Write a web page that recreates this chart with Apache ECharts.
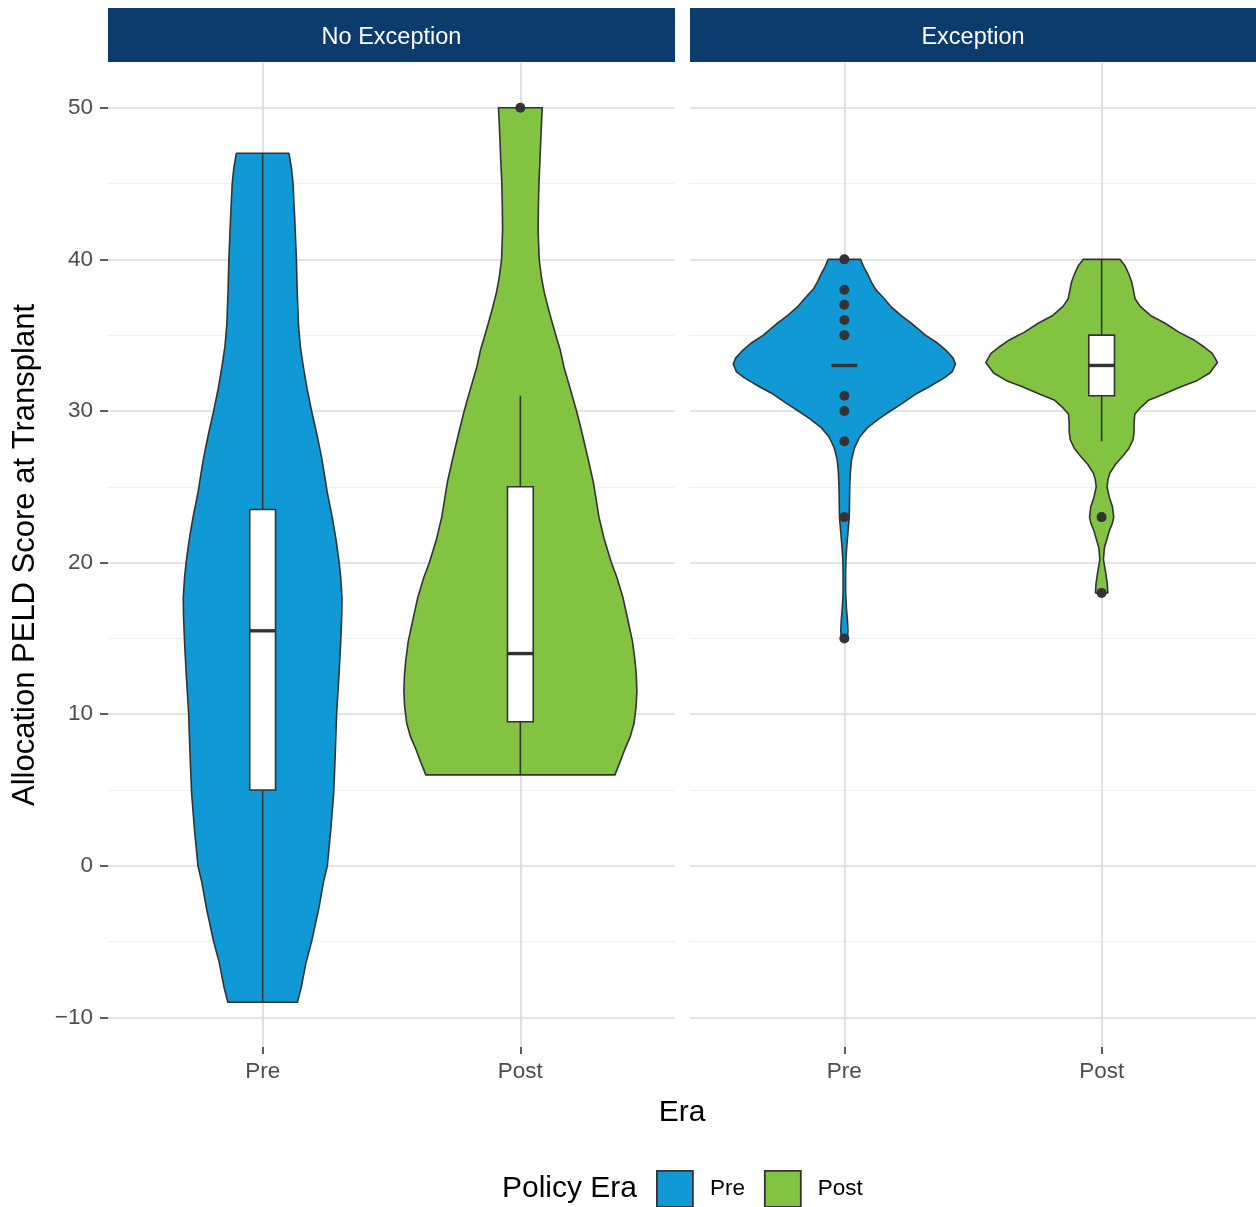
<!DOCTYPE html>
<html><head><meta charset="utf-8">
<script src="https://cdn.jsdelivr.net/npm/echarts@6/dist/echarts.min.js"></script>
<style>html,body{margin:0;padding:0;background:#fff}#c{width:1256px;height:1207px}</style>
</head><body><div id="c"></div>
<script>
// ---- data ----
const panels = ['No Exception', 'Exception'];
const eras = ['Pre', 'Post'];
const yTicks = [-10, 0, 10, 20, 30, 40, 50];
const yMinor = [-5, 5, 15, 25, 35, 45];

// violin outlines: [score, half-width in category units]
const violinNoExcPre = [[-9,0.135],[-8,0.15],[-6.4,0.168],[-5,0.19],[-2.8,0.218],[-1,0.237],[0,0.251],[2.5,0.265],[4.9,0.276],[7.5,0.282],[10,0.287],[12.5,0.296],[14.8,0.303],[16.5,0.307],[17.7,0.308],[19,0.303],[20,0.297],[21.5,0.285],[23,0.27],[24.7,0.25],[26,0.238],[27,0.228],[28.5,0.21],[30,0.19],[31.5,0.172],[32.9,0.158],[34.3,0.146],[35.7,0.139],[38,0.134],[40,0.131],[42.5,0.125],[45,0.118],[46,0.112],[47,0.102]];
const violinNoExcPost = [[6,0.367],[7,0.39],[7.8,0.408],[8.5,0.426],[9.4,0.441],[10.5,0.449],[11.5,0.452],[12.5,0.45],[13.5,0.445],[14.8,0.435],[16,0.42],[17.7,0.398],[19,0.375],[20,0.353],[21.5,0.326],[23,0.305],[24.7,0.289],[25.4,0.282],[26.9,0.262],[28.5,0.24],[30,0.218],[31.5,0.193],[32.9,0.169],[34,0.155],[34.8,0.141],[35.8,0.124],[36.8,0.108],[37.8,0.093],[38.8,0.082],[40,0.073],[41.9,0.069],[43.5,0.07],[45,0.072],[46.5,0.076],[47.8,0.079],[49,0.082],[50,0.085]];
const violinExcPre = [[15,0.012],[15.5,0.014],[16.2,0.012],[17,0.008],[18,0.005],[19.3,0.005],[20.2,0.006],[21,0.009],[22,0.014],[23,0.019],[24,0.02],[25,0.021],[25.9,0.023],[26.8,0.028],[27.6,0.04],[28.3,0.06],[28.9,0.09],[29.5,0.135],[30,0.179],[30.5,0.225],[31.1,0.276],[31.6,0.33],[32.2,0.39],[32.6,0.42],[33.1,0.432],[33.5,0.422],[34,0.395],[34.5,0.36],[35,0.315],[35.8,0.26],[36.3,0.22],[36.9,0.18],[37.5,0.15],[38,0.122],[38.5,0.105],[39.05,0.09],[39.5,0.075],[40,0.063]];
const violinExcPost = [[18,0.024],[18.6,0.022],[19.3,0.016],[20.2,0.007],[21,0.011],[21.5,0.02],[22.1,0.03],[22.6,0.042],[23,0.047],[23.7,0.042],[24.3,0.03],[25,0.021],[25.5,0.025],[25.9,0.032],[26.5,0.055],[27,0.081],[27.5,0.105],[28.1,0.122],[28.6,0.126],[29.2,0.126],[29.8,0.129],[30.2,0.15],[30.7,0.182],[31.1,0.24],[31.6,0.308],[32,0.37],[32.5,0.42],[33.2,0.45],[33.8,0.43],[34.2,0.4],[34.7,0.357],[35.2,0.3],[35.8,0.245],[36.3,0.19],[36.9,0.15],[37.4,0.13],[38,0.123],[38.5,0.117],[39.05,0.105],[39.6,0.09],[40,0.071]];

// box stats: [lower whisker, Q1, median, Q3, upper whisker]
const boxNoExcPre = [-9, 5, 15.5, 23.5, 47];
const boxNoExcPost = [6, 9.5, 14, 25, 31];
const boxExcPre = [33, 33, 33, 33, 33];
const boxExcPost = [28, 31, 33, 35, 40];

// outliers
const outNoExcPre = [];
const outNoExcPost = [50];
const outExcPre = [40, 38, 37, 36, 35, 31, 30, 28, 23, 15];
const outExcPost = [23, 18];

const colors = { Pre: '#1199d6', Post: '#82c341' };
const ink = '#333333';

// ---- build ----
const chart = echarts.init(document.getElementById('c'), null, { renderer: 'canvas' });
const FONT = 'Liberation Sans, Arial, sans-serif';

function violinSeries(name, gi, cx, prof) {
  return {
    type: 'custom', name: name, xAxisIndex: gi, yAxisIndex: gi * 2, z: 2,
    itemStyle: { color: colors[name], borderColor: ink, borderWidth: 1.6 },
    data: prof.map(p => [cx, p[0], p[1]]),
    renderItem: function (params, api) {
      if (params.dataIndex !== 0) return null;
      const pts = [];
      for (let i = 0; i < prof.length; i++) pts.push(api.coord([cx + prof[i][1], prof[i][0]]));
      for (let i = prof.length - 1; i >= 0; i--) pts.push(api.coord([cx - prof[i][1], prof[i][0]]));
      return { type: 'polygon', shape: { points: pts }, style: { fill: colors[name], stroke: ink, lineWidth: 1.6, lineJoin: 'round' } };
    }
  };
}
function boxSeries(gi, cx, b) {
  return {
    type: 'custom', name: 'box', xAxisIndex: gi, yAxisIndex: gi * 2, z: 3,
    data: [[cx].concat(b)],
    renderItem: function (params, api) {
      const hw = 0.05;
      const lo = api.coord([cx, b[0]]), q1 = api.coord([cx, b[1]]), q3 = api.coord([cx, b[3]]), hi = api.coord([cx, b[4]]);
      const l = api.coord([cx - hw, b[2]]), r = api.coord([cx + hw, b[2]]);
      const ch = [];
      if (b[1] > b[0]) ch.push({ type: 'line', shape: { x1: lo[0], y1: lo[1], x2: q1[0], y2: q1[1] }, style: { stroke: ink, lineWidth: 1.6 } });
      if (b[4] > b[3]) ch.push({ type: 'line', shape: { x1: q3[0], y1: q3[1], x2: hi[0], y2: hi[1] }, style: { stroke: ink, lineWidth: 1.6 } });
      if (b[3] > b[1]) ch.push({ type: 'rect', shape: { x: l[0], y: q3[1], width: r[0] - l[0], height: q1[1] - q3[1] }, style: { fill: '#fff', stroke: ink, lineWidth: 1.6 } });
      ch.push({ type: 'line', shape: { x1: l[0], y1: l[1], x2: r[0], y2: r[1] }, style: { stroke: ink, lineWidth: 3.4 } });
      return { type: 'group', children: ch };
    }
  };
}
function outSeries(gi, cx, arr) {
  return { type: 'scatter', name: 'outliers', xAxisIndex: gi, yAxisIndex: gi * 2, z: 4, symbolSize: 10,
    itemStyle: { color: ink, opacity: 1 }, data: arr.map(v => [cx, v]), silent: true };
}

const grids = [
  { left: 108, top: 63, width: 567, height: 984 },
  { left: 690, top: 63, width: 566, height: 984 }
];
const xAxes = [0, 1].map(gi => ({
  type: 'value', gridIndex: gi, min: 0.4, max: 2.6,
  axisLine: { show: false, onZero: false },
  axisTick: { show: true, length: 7, customValues: [1, 2], lineStyle: { color: ink, width: 1.6 } },
  axisLabel: { customValues: [1, 2], formatter: v => eras[Math.round(v) - 1], color: '#4d4d4d', fontSize: 22.5, fontFamily: FONT, margin: 13 },
  splitLine: { show: true, lineStyle: { color: '#dadada', width: 1.6 } }
}));
const yAxes = [];
[0, 1].forEach(gi => {
  yAxes.push({
    type: 'value', gridIndex: gi, min: -11.95, max: 52.95,
    axisLine: { show: false, onZero: false },
    axisTick: { show: gi === 0, length: 8, customValues: yTicks, lineStyle: { color: ink, width: 1.6 } },
    axisLabel: { show: gi === 0, customValues: yTicks, formatter: v => (v < 0 ? '\u2212' + Math.abs(v) : String(v)), color: '#4d4d4d', fontSize: 22.5, fontFamily: FONT, margin: 15 },
    splitLine: { show: true, lineStyle: { color: '#dadada', width: 1.6 } },
    name: gi === 0 ? 'Allocation PELD Score at Transplant' : '',
    nameLocation: 'middle', nameGap: 67,
    nameTextStyle: { fontSize: 31, color: '#000', fontFamily: FONT }
  });
  yAxes.push({
    type: 'value', gridIndex: gi, min: -11.95, max: 52.95, position: 'left',
    axisLine: { show: false, onZero: false }, axisTick: { show: false, customValues: yMinor },
    axisLabel: { show: false, customValues: yMinor },
    splitLine: { show: true, lineStyle: { color: '#f0f0f0', width: 1.2 } }
  });
});

const series = [
  violinSeries('Pre', 0, 1, violinNoExcPre),
  violinSeries('Post', 0, 2, violinNoExcPost),
  violinSeries('Pre', 1, 1, violinExcPre),
  violinSeries('Post', 1, 2, violinExcPost),
  boxSeries(0, 1, boxNoExcPre), boxSeries(0, 2, boxNoExcPost),
  boxSeries(1, 1, boxExcPre), boxSeries(1, 2, boxExcPost),
  outSeries(0, 1, outNoExcPre), outSeries(0, 2, outNoExcPost),
  outSeries(1, 1, outExcPre), outSeries(1, 2, outExcPost)
];

const strips = grids.map((g, i) => ({
  type: 'group', left: g.left, top: 8, children: [
    { type: 'rect', shape: { x: 0, y: 0, width: g.width, height: 54 }, style: { fill: '#0c3b6d' } },
    { type: 'text', x: g.width / 2, y: 29.5, style: { text: panels[i], fill: '#fff', font: '23.5px ' + FONT, textAlign: 'center', textVerticalAlign: 'middle' } }
  ]
}));

chart.setOption({
  animation: false,
  backgroundColor: '#fff',
  grid: grids,
  xAxis: xAxes,
  yAxis: yAxes,
  series: series,
  legend: {
    data: [
      { name: 'Pre', itemStyle: { color: colors.Pre, borderColor: ink, borderWidth: 1.8 } },
      { name: 'Post', itemStyle: { color: colors.Post, borderColor: ink, borderWidth: 1.8 } }
    ],
    left: 651, top: 1165, itemWidth: 36, itemHeight: 36, itemGap: 19, icon: 'rect',
    textStyle: { fontSize: 22.5, color: '#000', fontFamily: FONT, padding: [0, 0, 0, 12] },
    selectedMode: false
  },
  graphic: strips.concat([
    { type: 'text', x: 682, y: 1113, style: { text: 'Era', fill: '#000', font: '30px ' + FONT, textAlign: 'center', textVerticalAlign: 'middle' } },
    { type: 'text', x: 637, y: 1189, style: { text: 'Policy Era', fill: '#000', font: '30px ' + FONT, textAlign: 'right', textVerticalAlign: 'middle' } }
  ])
});
</script></body></html>
